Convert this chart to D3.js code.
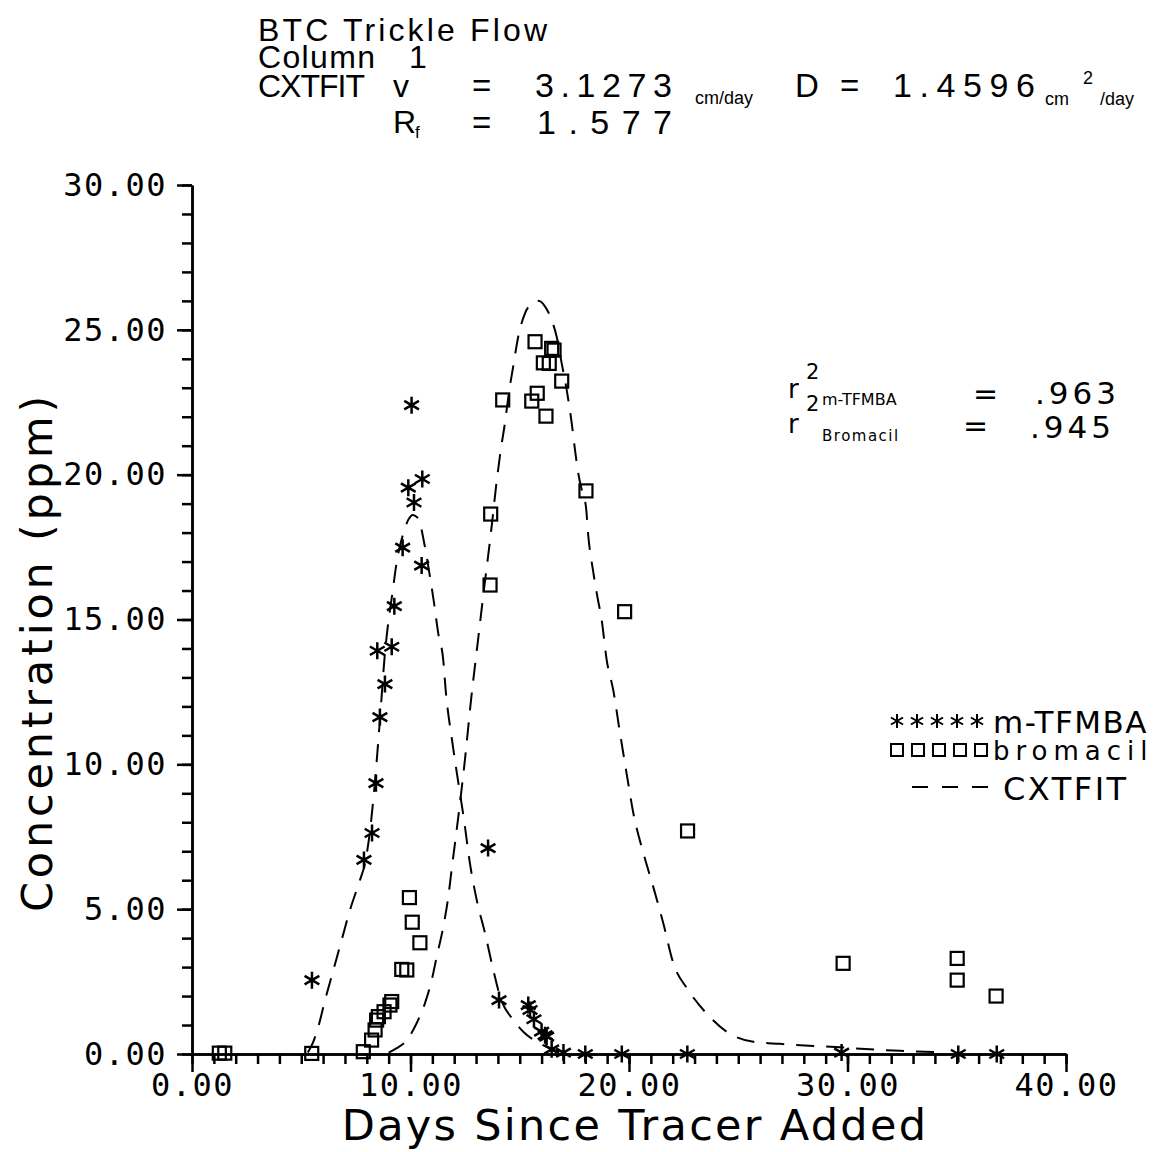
<!DOCTYPE html>
<html lang="en">
<head>
<meta charset="UTF-8">
<title>BTC Trickle Flow</title>
<script src="https://d3js.org/d3.v7.min.js"></script>
<style>
  body { margin: 0; background: #fff; }
</style>
</head>
<body>
<svg id="chart" width="1176" height="1152"></svg>
<script>
// measured m-TFMBA points (stars)
const tfmbaDays = [5.49, 7.87, 8.24, 8.42, 8.60, 8.83, 8.48, 9.14, 9.26, 9.64, 10.51, 9.90, 10.16, 10.54, 10.05,
  13.55, 14.05, 15.39, 15.47, 15.65, 16.00, 16.16, 16.23, 16.46, 17.00, 18.00, 19.67, 22.67, 29.73, 35.07, 36.83];
const tfmbaConc = [2.55, 6.70, 7.63, 9.35, 11.63, 12.77, 13.92, 14.06, 15.46, 17.48, 16.86, 19.55, 19.04, 19.85, 22.40,
  7.11, 1.86, 1.69, 1.52, 1.20, 0.77, 0.65, 0.60, 0.16, 0.05, 0.00, 0.00, 0.00, 0.05, 0.00, 0.00];

// measured bromacil points (squares)
const bromDays = [1.25, 1.50, 5.48, 7.84, 8.22, 8.38, 8.45, 8.53, 8.79, 9.06, 9.14, 9.60, 9.83, 10.43, 10.08, 9.95,
  13.67, 13.64, 14.22, 15.55, 15.80, 16.20, 15.70, 16.08, 16.35, 16.46, 16.57, 16.92, 18.03, 19.80, 22.68,
  29.80, 35.02, 35.02, 36.80];
const bromConc = [0.03, 0.03, 0.02, 0.08, 0.48, 0.83, 1.17, 1.29, 1.46, 1.69, 1.81, 2.92, 2.90, 3.84, 4.55, 5.40,
  18.64, 16.19, 22.58, 22.54, 22.81, 22.02, 24.59, 23.86, 23.84, 24.36, 24.30, 23.23, 19.44, 15.27, 7.70,
  3.13, 3.30, 2.55, 2.00];

// CXTFIT curve for m-TFMBA
const fitTfmbaDays = [5.30, 5.55, 5.78, 6.09, 6.47, 6.85, 7.23, 7.69, 7.92, 8.15, 8.38, 8.60, 8.83, 8.98, 9.17, 9.37,
  9.67, 9.89, 10.11, 10.34, 10.66, 10.89, 11.08, 11.27, 11.50, 11.61, 11.90, 12.17, 12.45, 12.72, 13.03, 13.41,
  13.79, 14.10, 14.71, 15.16, 15.78, 16.38, 16.98];
const fitTfmbaConc = [0.05, 0.42, 0.94, 1.86, 2.90, 3.94, 4.97, 6.01, 6.59, 7.73, 9.46, 11.53, 13.84, 14.87, 15.90, 16.99,
  17.97, 18.43, 18.61, 18.50, 17.51, 16.48, 15.56, 14.52, 13.60, 12.56, 10.84, 9.46, 8.08, 6.58, 5.32, 4.17,
  2.90, 1.98, 1.17, 0.77, 0.42, 0.20, 0.04];

// CXTFIT curve for bromacil
const fitBromDays = [9.00, 9.37, 9.83, 10.28, 10.66, 10.97, 11.20, 11.50, 11.73, 11.88, 12.17, 12.49, 12.77, 13.09,
  13.36, 13.67, 13.95, 14.13, 14.32, 14.52, 14.70, 14.93, 15.24, 15.55, 15.85, 16.16, 16.46, 16.69, 16.92, 17.15,
  17.38, 17.53, 17.68, 17.84, 18.03, 18.14, 18.35, 18.54, 18.75, 18.98, 19.28, 19.59, 19.89, 20.20, 20.66, 21.11,
  21.57, 22.03, 22.71, 23.55, 24.47, 25.69, 26.91, 28.44, 29.66, 31.03, 32.40, 34.00];
const fitBromConc = [0.05, 0.20, 0.48, 1.06, 1.75, 2.55, 3.36, 4.39, 5.43, 6.35, 8.08, 10.15, 12.22, 14.29,
  16.02, 17.92, 19.81, 20.85, 21.77, 22.92, 23.73, 24.76, 25.57, 25.91, 26.00, 25.80, 25.34, 24.76, 23.84, 22.92,
  21.77, 20.85, 20.04, 19.47, 18.89, 17.86, 16.71, 15.84, 14.98, 13.60, 12.56, 11.07, 9.69, 8.31, 6.93, 5.77,
  4.51, 3.13, 2.21, 1.40, 0.77, 0.42, 0.35, 0.28, 0.23, 0.16, 0.11, 0.07];

const xTicks = [0, 10, 20, 30, 40];
const yTicks = [0, 5, 10, 15, 20, 25, 30];

const svg = d3.select("#chart");
const margin = { top: 185, right: 110, bottom: 98, left: 192 };
const width = 1176, height = 1152;

const x = d3.scaleLinear().domain([0, 40]).range([margin.left, width - margin.right]);
const y = d3.scaleLinear().domain([0, 30]).range([height - margin.bottom, margin.top]);

const tickFont = "'DejaVu Sans Mono', monospace";
const plotFont = "'DejaVu Sans', sans-serif";
const headFont = "'Liberation Sans', sans-serif";

// header block
const head = svg.append("g").style("font-family", headFont).attr("fill", "#000");
function headText(str, hx, hy, size, len) {
  const t = head.append("text").attr("x", hx).attr("y", hy)
    .style("font-size", size + "px").text(str);
  if (len) t.attr("textLength", len).attr("lengthAdjust", "spacing");
  return t;
}
headText("BTC Trickle Flow", 258, 41, 32, 289);
headText("Column", 258, 68, 32, 117);
headText("1", 409, 68, 32);
headText("CXTFIT", 258, 97, 32, 107);
headText("v", 393, 97, 32);
headText("=", 472, 97, 33);
headText("3.1273", 535, 97, 34, 137);
headText("cm/day", 695, 104, 18);
headText("D", 795, 97, 33);
headText("=", 840, 97, 33);
headText("1.4596", 893, 97, 34, 142);
headText("cm", 1045, 105, 18);
headText("2", 1083, 84, 18);
headText("/day", 1100, 105, 18);
headText("R", 393, 133, 32);
headText("f", 415, 138, 17);
headText("=", 472, 134, 33);
headText("1.577", 537, 134, 34, 135);

// axes: minor ticks first, then major ticks with labels
const axisG = svg.append("g");

axisG.append("g")
  .attr("transform", `translate(${margin.left},0)`)
  .call(d3.axisLeft(y).tickValues(d3.range(0, 31, 1)).tickSize(10).tickFormat("").tickSizeOuter(0));
const yAxis = axisG.append("g")
  .attr("transform", `translate(${margin.left},0)`)
  .call(d3.axisLeft(y).tickValues(yTicks).tickSize(15).tickPadding(10).tickSizeOuter(0)
    .tickFormat(d3.format(".2f")));
yAxis.selectAll("text").style("font-family", tickFont).style("font-size", "32px")
  .attr("letter-spacing", 1.5);

axisG.append("g")
  .attr("transform", `translate(0,${y(0)})`)
  .call(d3.axisBottom(x).tickValues(d3.range(0, 41, 1)).tickSize(10).tickFormat("").tickSizeOuter(0));
const xAxis = axisG.append("g")
  .attr("transform", `translate(0,${y(0)})`)
  .call(d3.axisBottom(x).tickValues(xTicks).tickSize(18).tickPadding(1).tickSizeOuter(0)
    .tickFormat(d3.format(".2f")));
xAxis.selectAll("text").style("font-family", tickFont).style("font-size", "32px")
  .attr("letter-spacing", 1.5);
axisG.selectAll("path, line").attr("stroke", "#000").attr("stroke-width", 2.5);

// axis titles
svg.append("text")
  .attr("transform", `translate(52,652) rotate(-90)`)
  .attr("text-anchor", "middle")
  .style("font-family", plotFont).style("font-size", "43px")
  .attr("letter-spacing", 3.8)
  .text("Concentration (ppm)");

svg.append("text")
  .attr("x", (x(0) + x(40)) / 2 + 6).attr("y", 1140)
  .attr("text-anchor", "middle")
  .style("font-family", plotFont).style("font-size", "43px")
  .attr("letter-spacing", 2.3)
  .text("Days Since Tracer Added");

// fitted curves
const fitLine = d3.line().x(d => x(d[0])).y(d => y(d[1])).curve(d3.curveMonotoneX);
const fitStyle = sel => sel.attr("fill", "none").attr("stroke", "#000").attr("stroke-width", 2)
  .attr("stroke-dasharray", "18 12");
svg.append("path").datum(d3.zip(fitTfmbaDays, fitTfmbaConc)).attr("d", fitLine).call(fitStyle);
svg.append("path").datum(d3.zip(fitBromDays, fitBromConc)).attr("d", fitLine).call(fitStyle);

// marker shapes
function starPath(r) {
  const cx = r * Math.cos(Math.PI / 6), cy = r * Math.sin(Math.PI / 6);
  return `M0,${-r}L0,${r}M${-cx},${-cy}L${cx},${cy}M${-cx},${cy}L${cx},${-cy}`;
}

svg.append("g").selectAll("path")
  .data(d3.zip(tfmbaDays, tfmbaConc))
  .join("path")
  .attr("transform", d => `translate(${x(d[0])},${y(d[1])})`)
  .attr("d", starPath(8.5))
  .attr("fill", "none").attr("stroke", "#000").attr("stroke-width", 2.5);

svg.append("g").selectAll("rect")
  .data(d3.zip(bromDays, bromConc))
  .join("rect")
  .attr("x", d => x(d[0]) - 6.5).attr("y", d => y(d[1]) - 6.5)
  .attr("width", 13).attr("height", 13)
  .attr("fill", "none").attr("stroke", "#000").attr("stroke-width", 2.2);

// legend
const legend = svg.append("g").style("font-family", plotFont);
d3.range(5).forEach(i => {
  legend.append("path").attr("transform", `translate(${897 + i * 20},721)`)
    .attr("d", starPath(7)).attr("fill", "none").attr("stroke", "#000").attr("stroke-width", 2);
  legend.append("rect").attr("x", 891 + i * 21).attr("y", 744).attr("width", 12).attr("height", 12)
    .attr("fill", "none").attr("stroke", "#000").attr("stroke-width", 2);
});
legend.append("line").attr("x1", 912).attr("x2", 990).attr("y1", 787).attr("y2", 787)
  .attr("stroke", "#000").attr("stroke-width", 2).attr("stroke-dasharray", "16 14");
legend.append("text").attr("x", 993).attr("y", 733).style("font-size", "31px")
  .attr("letter-spacing", 1.5).text("m-TFMBA");
legend.append("text").attr("x", 993).attr("y", 760).style("font-size", "26px")
  .attr("letter-spacing", 6).text("bromacil");
legend.append("text").attr("x", 1003).attr("y", 800).style("font-size", "32px")
  .attr("letter-spacing", 2.5).text("CXTFIT");

// r-squared notes
const notes = svg.append("g").style("font-family", plotFont);
notes.append("text").attr("x", 788).attr("y", 398).style("font-size", "26px").text("r");
notes.append("text").attr("x", 806).attr("y", 379).style("font-size", "21px").text("2");
notes.append("text").attr("x", 806).attr("y", 411).style("font-size", "21px").text("2");
notes.append("text").attr("x", 822).attr("y", 405).style("font-size", "16px").text("m-TFMBA");
notes.append("text").attr("x", 973).attr("y", 404).style("font-size", "30px").text("=");
notes.append("text").attr("x", 1035).attr("y", 404).style("font-size", "31px").attr("letter-spacing", 4).text(".963");
notes.append("text").attr("x", 788).attr("y", 433).style("font-size", "26px").text("r");
notes.append("text").attr("x", 822).attr("y", 441).style("font-size", "15px").attr("letter-spacing", 1.5).text("Bromacil");
notes.append("text").attr("x", 963).attr("y", 436).style("font-size", "30px").text("=");
notes.append("text").attr("x", 1030).attr("y", 438).style("font-size", "31px").attr("letter-spacing", 4).text(".945");
</script>
</body>
</html>
